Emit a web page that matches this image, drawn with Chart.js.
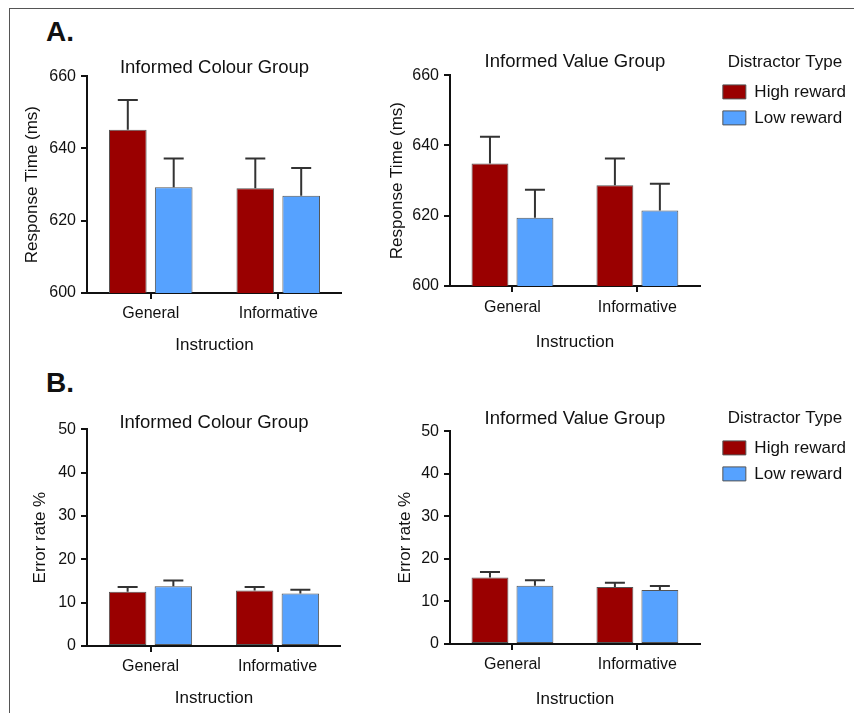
<!DOCTYPE html>
<html>
<head>
<meta charset="utf-8">
<script src="https://cdn.jsdelivr.net/npm/chart.js@4.4.1/dist/chart.umd.min.js"></script>
<style>
  html, body { margin: 0; padding: 0; background: #fff; width: 854px; height: 713px; overflow: hidden; position: relative; }
  body { font-family: "Liberation Sans", Arial, sans-serif; }
  .frame { position: absolute; left: 9px; top: 8px; right: -4px; bottom: -4px; border-top: 1px solid #555; border-left: 1px solid #555; }
  .panel { position: absolute; left: 46px; font-weight: bold; font-size: 28px; line-height: 1; color: #111; }
  canvas { position: absolute; }
</style>
</head>
<body>
<div class="frame"></div>
<div class="panel" style="top:18px">A.</div>
<div class="panel" style="top:369px">B.</div>
<canvas id="rtColour" width="332" height="308" style="left:10px;top:52px"></canvas>
<canvas id="rtValue"  width="476" height="309" style="left:375px;top:48px"></canvas>
<canvas id="erColour" width="331" height="306" style="left:10px;top:407px"></canvas>
<canvas id="erValue"  width="476" height="310" style="left:375px;top:404px"></canvas>
<script>
// values (means and upward error bars)
const CATEGORIES = ['General', 'Informative'];
const SERIES     = ['High reward', 'Low reward'];

const RT_COLOUR_HIGH     = [645.2, 629.0];
const RT_COLOUR_HIGH_ERR = [8.2, 8.2];
const RT_COLOUR_LOW      = [629.3, 626.9];
const RT_COLOUR_LOW_ERR  = [7.9, 7.7];

const RT_VALUE_HIGH      = [634.9, 628.7];
const RT_VALUE_HIGH_ERR  = [7.6, 7.6];
const RT_VALUE_LOW       = [619.4, 621.5];
const RT_VALUE_LOW_ERR   = [8.0, 7.6];

const ER_COLOUR_HIGH     = [12.5, 12.8];
const ER_COLOUR_HIGH_ERR = [1.1, 0.8];
const ER_COLOUR_LOW      = [13.8, 12.1];
const ER_COLOUR_LOW_ERR  = [1.3, 0.9];

const ER_VALUE_HIGH      = [15.6, 13.4];
const ER_VALUE_HIGH_ERR  = [1.3, 1.0];
const ER_VALUE_LOW       = [13.7, 12.7];
const ER_VALUE_LOW_ERR   = [1.3, 0.9];

const RT_RANGE = [600, 660, 20];
const ER_RANGE = [0, 50, 10];

const FONT  = '"Liberation Sans", Arial, sans-serif';
const INK   = '#111';
const RED   = '#9a0000';
const BLUE  = '#56a2ff';
const EDGE  = '#555';

// one-sided (upward) error bars, drawn through the y scale
const errorBars = {
  id: 'errorBars',
  afterDatasetsDraw(chart) {
    const ctx = chart.ctx;
    const y = chart.scales.y;
    chart.data.datasets.forEach((ds, di) => {
      chart.getDatasetMeta(di).data.forEach((bar, i) => {
        const top = y.getPixelForValue(ds.data[i] + ds.errors[i]);
        ctx.save();
        ctx.strokeStyle = '#333';
        ctx.lineWidth = 2;
        ctx.beginPath();
        ctx.moveTo(bar.x, bar.y);
        ctx.lineTo(bar.x, top);
        ctx.moveTo(bar.x - 10, top);
        ctx.lineTo(bar.x + 10, top);
        ctx.stroke();
        ctx.restore();
      });
    });
  }
};

// push the legend a little away from the plot
const legendNudge = {
  id: 'legendNudge',
  afterLayout(chart, args, opts) {
    const l = chart.legend;
    if (l && opts.dx) { l.left += opts.dx; l.right += opts.dx; }
  }
};

function axisGrid() {
  return { display: true, drawOnChartArea: false, drawTicks: true, tickLength: 6, color: INK, lineWidth: 2, offset: false };
}

function makeChart(id, c) {
  return new Chart(document.getElementById(id), {
    type: 'bar',
    data: {
      labels: CATEGORIES,
      datasets: [
        { label: SERIES[0], data: c.high, errors: c.highErr, backgroundColor: RED,  borderColor: EDGE, borderWidth: 1, borderSkipped: false, categoryPercentage: 0.72, barPercentage: 0.82 },
        { label: SERIES[1], data: c.low,  errors: c.lowErr,  backgroundColor: BLUE, borderColor: EDGE, borderWidth: 1, borderSkipped: false, categoryPercentage: 0.72, barPercentage: 0.82 },
      ],
    },
    options: {
      responsive: false, animation: false, devicePixelRatio: 1,
      layout: { padding: { right: c.legend ? 9 : 0 } },
      plugins: {
        tooltip: { enabled: false },
        title: {
          display: true, text: c.title, fullSize: false, color: INK,
          font: { family: FONT, size: 18.5, weight: 'normal', lineHeight: 1.2 },
          padding: c.titlePad,
        },
        legend: c.legend ? {
          display: true, position: 'right', align: 'start', maxWidth: 220,
          title: { display: true, text: 'Distractor Type', color: INK, position: 'center',
                   font: { family: FONT, size: 17 }, padding: { top: 6, bottom: 0 } },
          labels: { boxWidth: 23, boxHeight: 14, padding: 9, color: INK, font: { family: FONT, size: 17 } },
        } : { display: false },
        legendNudge: { dx: c.legend ? 14 : 0 },
      },
      scales: {
        x: {
          grid: axisGrid(),
          border: { display: true, color: INK, width: 2 },
          ticks: { color: INK, padding: c.xPad, font: { family: FONT, size: 16 } },
          title: { display: true, text: 'Instruction', color: INK, font: { family: FONT, size: 17 }, padding: { top: 0, bottom: 4 } },
          afterFit: s => { s.height = c.xHeight; },
        },
        y: {
          min: c.range[0], max: c.range[1],
          grid: axisGrid(),
          border: { display: true, color: INK, width: 2 },
          ticks: { stepSize: c.range[2], color: INK, padding: 5, font: { family: FONT, size: 16 } },
          title: { display: true, text: c.yTitle, color: INK, font: { family: FONT, size: 17 }, padding: { top: c.yTitlePad, bottom: 0 } },
          afterFit: s => { s.width = c.yWidth; },
        },
      },
    },
    plugins: [errorBars, legendNudge],
  });
}

makeChart('rtColour', {
  title: 'Informed Colour Group', yTitle: 'Response Time (ms)', range: RT_RANGE,
  high: RT_COLOUR_HIGH, highErr: RT_COLOUR_HIGH_ERR, low: RT_COLOUR_LOW, lowErr: RT_COLOUR_LOW_ERR,
  legend: false, titlePad: { top: 5, bottom: -3 }, yWidth: 77, xHeight: 67, xPad: 5, yTitlePad: 12,
});
makeChart('rtValue', {
  title: 'Informed Value Group', yTitle: 'Response Time (ms)', range: RT_RANGE,
  high: RT_VALUE_HIGH, highErr: RT_VALUE_HIGH_ERR, low: RT_VALUE_LOW, lowErr: RT_VALUE_LOW_ERR,
  legend: true, titlePad: { top: 3, bottom: 2 }, yWidth: 75, xHeight: 71, xPad: 6, yTitlePad: 12,
});
makeChart('erColour', {
  title: 'Informed Colour Group', yTitle: 'Error rate %', range: ER_RANGE,
  high: ER_COLOUR_HIGH, highErr: ER_COLOUR_HIGH_ERR, low: ER_COLOUR_LOW, lowErr: ER_COLOUR_LOW_ERR,
  legend: false, titlePad: { top: 5, bottom: -5 }, yWidth: 77, xHeight: 67, xPad: 5, yTitlePad: 20,
});
makeChart('erValue', {
  title: 'Informed Value Group', yTitle: 'Error rate %', range: ER_RANGE,
  high: ER_VALUE_HIGH, highErr: ER_VALUE_HIGH_ERR, low: ER_VALUE_LOW, lowErr: ER_VALUE_LOW_ERR,
  legend: true, titlePad: { top: 4, bottom: 1 }, yWidth: 75, xHeight: 70, xPad: 5, yTitlePad: 20,
});
</script>
</body>
</html>
